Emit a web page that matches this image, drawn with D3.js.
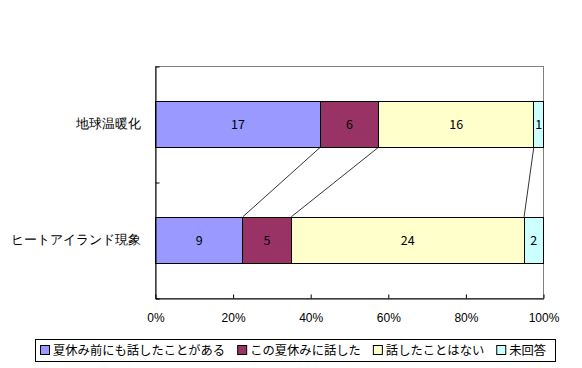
<!DOCTYPE html>
<html>
<head>
<meta charset="utf-8">
<script src="https://cdn.jsdelivr.net/npm/d3@7"></script>
<style>
  html, body { margin: 0; padding: 0; background: #fff; }
  svg { display: block; font-family: "Noto Sans CJK JP", "Noto Sans", sans-serif; }
</style>
</head>
<body>
<svg id="chart" width="582" height="368"></svg>
<script>
const categories = ["地球温暖化", "ヒートアイランド現象"];
const seriesNames = ["夏休み前にも話したことがある", "この夏休みに話した", "話したことはない", "未回答"];
const seriesColors = ["#9999FF", "#993366", "#FFFFCC", "#CCFFFF"];
const values = [
  [17, 6, 16, 1],
  [9, 5, 24, 2]
];
const tickValues = [0, 0.2, 0.4, 0.6, 0.8, 1.0];

const svg = d3.select("#chart");
const plot = { left: 155, right: 543, top: 66, bottom: 298 };

const x = d3.scaleLinear().domain([0, 1]).range([plot.left, plot.right]);
const y = d3.scaleBand().domain(categories).range([plot.top, plot.bottom]).padding(0);
const barH = y.bandwidth() * 0.4;
const barY = c => y(c) + (y.bandwidth() - barH) / 2;

// stacked percentages
const stacks = values.map(row => {
  const total = d3.sum(row);
  let cum = 0;
  return row.map((v, i) => {
    const s = { v, i, x0: cum / total, x1: (cum + v) / total };
    cum += v;
    return s;
  });
});

// plot border (gray top/right)
svg.append("rect")
  .attr("x", plot.left + 0.5).attr("y", plot.top + 0.5)
  .attr("width", plot.right - plot.left).attr("height", plot.bottom - plot.top)
  .attr("fill", "none").attr("stroke", "#808080").attr("stroke-width", 1);

// series lines
for (let k = 0; k < seriesNames.length - 1; k++) {
  const a = stacks[0][k].x1, b = stacks[1][k].x1;
  svg.append("line")
    .attr("x1", x(a) + 0.5).attr("y1", barY(categories[0]) + barH)
    .attr("x2", x(b) + 0.5).attr("y2", barY(categories[1]))
    .attr("stroke", "#000").attr("stroke-width", 0.8);
}

// bars
categories.forEach((c, ci) => {
  const g = svg.append("g");
  g.selectAll("rect").data(stacks[ci]).join("rect")
    .attr("x", d => Math.round(x(d.x0)) + 0.5)
    .attr("y", Math.round(barY(c)) + 0.5)
    .attr("width", d => Math.round(x(d.x1)) - Math.round(x(d.x0)))
    .attr("height", Math.round(barH))
    .attr("fill", d => seriesColors[d.i])
    .attr("stroke", "#000").attr("stroke-width", 1);
  g.selectAll("text").data(stacks[ci]).join("text")
    .attr("x", d => (x(d.x0) + x(d.x1)) / 2 + 0.5)
    .attr("y", barY(c) + barH / 2)
    .attr("dy", "0.36em")
    .attr("text-anchor", "middle")
    .attr("font-size", 12.5)
    .attr("fill", "#000")
    .text(d => d.v);
});

// category labels
svg.append("g")
  .attr("transform", `translate(${plot.left},0)`)
  .call(d3.axisLeft(y).tickSize(0).tickPadding(14))
  .call(g => g.select(".domain").remove())
  .selectAll("text").attr("font-size", 13.2).attr("font-family", null).attr("fill", "#000");

// category axis with inside ticks at band boundaries
const yIdx = d3.scaleLinear().domain([0, categories.length]).range([plot.top, plot.bottom]);
svg.append("g")
  .attr("transform", `translate(${plot.left + 0.5},0.5)`)
  .call(d3.axisRight(yIdx).tickValues(d3.range(categories.length + 1)).tickSize(4).tickSizeOuter(0).tickFormat(""))
  .call(g => g.selectAll("line, path").attr("stroke", "#000"));

// value axis
svg.append("g")
  .attr("transform", `translate(0.5,${plot.bottom + 0.5})`)
  .call(d3.axisBottom(x).tickValues(tickValues).tickSize(-4).tickSizeOuter(0).tickPadding(15).tickFormat(d3.format(".0%")))
  .call(g => g.selectAll("line, path").attr("stroke", "#000"))
  .call(g => g.selectAll("text").attr("font-size", 12).attr("font-family", null).attr("fill", "#000"));

// legend
const legend = svg.append("g");
const lg = { x: 35, y: 339, w: 520, h: 22 };
legend.append("rect")
  .attr("x", lg.x + 0.5).attr("y", lg.y + 0.5).attr("width", lg.w).attr("height", lg.h)
  .attr("fill", "#fff").attr("stroke", "#000");
let cx = 40;
seriesNames.forEach((name, i) => {
  const item = legend.append("g");
  item.append("rect")
    .attr("x", cx + 0.5).attr("y", lg.y + 6.5).attr("width", 9).attr("height", 9)
    .attr("fill", seriesColors[i]).attr("stroke", "#000");
  const t = item.append("text")
    .attr("x", cx + 13).attr("y", lg.y + lg.h / 2 + 1).attr("dy", "0.36em")
    .attr("font-size", 12.3).attr("fill", "#000").text(name);
  cx += 13 + t.node().getComputedTextLength() + 12;
});
</script>
</body>
</html>
